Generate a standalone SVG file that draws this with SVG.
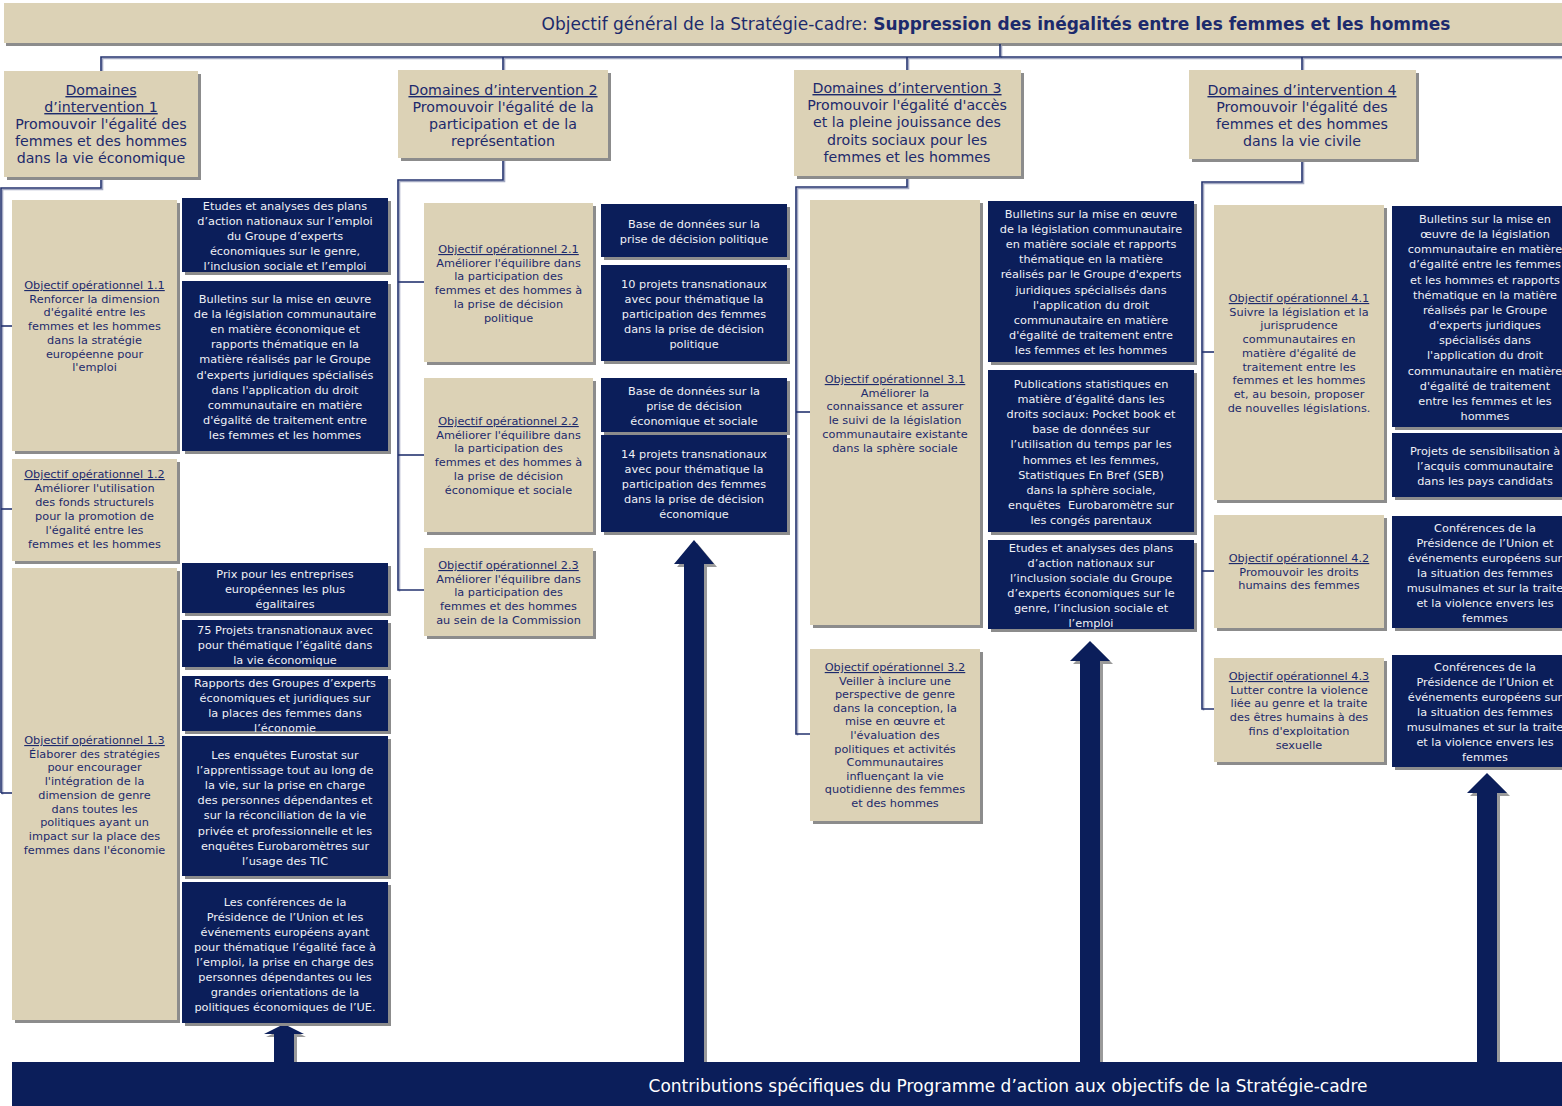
<svg xmlns="http://www.w3.org/2000/svg" width="1562" height="1106" viewBox="0 0 1562 1106">
<style>
.sh{fill:#8c8c8c}
.bg{fill:#dcd2b6}
.dk{fill:#0b1e5a}
.t{font-family:"DejaVu Sans",Verdana,sans-serif;text-anchor:middle}
.dt{font-size:14.2px;fill:#1c2a6c}
.ot{font-size:11.3px;fill:#1c2a6c}
.wt{font-size:11.3px;fill:#f0f1f6}
.u{text-decoration:underline}
.ln{fill:none;stroke:#24336f;stroke-width:1.6}
.lsh{fill:none;stroke:#a3a9c2;stroke-width:1.6}
.ar{fill:#0b1e5a}
.arsh{fill:#9a9a9a}
</style>
<rect width="1562" height="1106" fill="#ffffff"/>

<g id="header">
<rect class="sh" x="6" y="6" width="1560" height="40"/>
<rect class="bg" x="4" y="3" width="1560" height="40"/>
<text class="t" x="996" y="30" font-size="17" fill="#1c2a6c">Objectif général de la Stratégie-cadre: <tspan font-weight="bold">Suppression des inégalités entre les femmes et les hommes</tspan></text>
</g>

<g id="connectors">
<g class="lsh" transform="translate(1.5,1.5)">
<polyline points="1000,44 1000,57"/>
<polyline points="101,71 101,57 1562,57"/>
<polyline points="503,57 503,70"/><polyline points="907,57 907,70"/><polyline points="1302,57 1302,70"/>
<polyline points="101,177 101,188 1,188 1,793"/>
<polyline points="503,158 503,180 398,180 398,590"/>
<polyline points="907,176 907,187 796,187 796,734"/>
<polyline points="1302,159 1302,182 1202,182 1202,709"/>
</g>
<polyline class="ln" points="1000,44 1000,57"/>
<polyline class="ln" points="101,71 101,57 1562,57"/>
<polyline class="ln" points="503,57 503,70"/>
<polyline class="ln" points="907,57 907,70"/>
<polyline class="ln" points="1302,57 1302,70"/>
<polyline class="ln" points="101,177 101,188 1,188 1,793"/>
<polyline class="ln" points="1,326 12,326"/><polyline class="ln" points="1,509 12,509"/><polyline class="ln" points="1,793 12,793"/>
<polyline class="ln" points="503,158 503,180 398,180 398,590 424,590"/>
<polyline class="ln" points="398,282 424,282"/><polyline class="ln" points="398,455 424,455"/>
<polyline class="ln" points="907,176 907,187 796,187 796,734 810,734"/>
<polyline class="ln" points="796,412 810,412"/>
<polyline class="ln" points="1302,159 1302,182 1202,182 1202,709 1214,709"/>
<polyline class="ln" points="1202,352 1214,352"/><polyline class="ln" points="1202,571 1214,571"/>
<polygon class="arsh" points="287,1027 306,1037 297,1037 297,1062 277,1062 277,1037 266,1037"/>
<polygon class="ar" points="284,1024 304,1034 294,1034 294,1062 274,1062 274,1034 264,1034"/>
<polygon class="arsh" points="697,543 717,567 707,567 707,1062 687,1062 687,567 677,567"/>
<polygon class="ar" points="694,540 714,564 704,564 704,1062 684,1062 684,564 674,564"/>
<polygon class="arsh" points="1093,644 1113,664 1103,664 1103,1062 1083,1062 1083,664 1073,664"/>
<polygon class="ar" points="1090,641 1110,661 1100,661 1100,1062 1080,1062 1080,661 1070,661"/>
<polygon class="arsh" points="1490,776 1510,796 1500,796 1500,1062 1480,1062 1480,796 1470,796"/>
<polygon class="ar" points="1487,773 1507,793 1497,793 1497,1062 1477,1062 1477,793 1467,793"/>
</g>

<g id="d1"><rect class="sh" x="7" y="74" width="194" height="106"/><rect class="bg" x="4" y="71" width="194" height="106"/>
<text class="t dt" x="101" y="95"><tspan class="u">Domaines</tspan><tspan class="u" x="101" dy="17">d’intervention 1</tspan><tspan x="101" dy="17">Promouvoir l'égalité des</tspan><tspan x="101" dy="17">femmes et des hommes</tspan><tspan x="101" dy="17">dans la vie économique</tspan></text></g>

<g id="d2"><rect class="sh" x="401" y="73" width="210" height="88"/><rect class="bg" x="398" y="70" width="210" height="88"/>
<text class="t dt" x="503" y="95"><tspan class="u">Domaines d’intervention 2</tspan><tspan x="503" dy="17">Promouvoir l'égalité de la</tspan><tspan x="503" dy="17">participation et de la</tspan><tspan x="503" dy="17">représentation</tspan></text></g>

<g id="d3"><rect class="sh" x="797" y="73" width="227" height="106"/><rect class="bg" x="794" y="70" width="227" height="106"/>
<text class="t dt" x="907" y="93"><tspan class="u">Domaines d’intervention 3</tspan><tspan x="907" dy="17.2">Promouvoir l'égalité d'accès</tspan><tspan x="907" dy="17.2">et la pleine jouissance des</tspan><tspan x="907" dy="17.2">droits sociaux pour les</tspan><tspan x="907" dy="17.2">femmes et les hommes</tspan></text></g>

<g id="d4"><rect class="sh" x="1192" y="73" width="227" height="89"/><rect class="bg" x="1189" y="70" width="227" height="89"/>
<text class="t dt" x="1302" y="95"><tspan class="u">Domaines d’intervention 4</tspan><tspan x="1302" dy="17">Promouvoir l'égalité des</tspan><tspan x="1302" dy="17">femmes et des hommes</tspan><tspan x="1302" dy="17">dans la vie civile</tspan></text></g>

<g id="op11"><rect class="sh" x="15" y="203" width="165" height="251"/><rect class="bg" x="12" y="200" width="165" height="251"/>
<text class="t ot" x="94.5" y="289"><tspan class="u">Objectif opérationnel 1.1</tspan><tspan x="94.5" dy="13.7">Renforcer la dimension</tspan><tspan x="94.5" dy="13.7">d'égalité entre les</tspan><tspan x="94.5" dy="13.7">femmes et les hommes</tspan><tspan x="94.5" dy="13.7">dans la stratégie</tspan><tspan x="94.5" dy="13.7">européenne pour</tspan><tspan x="94.5" dy="13.7">l'emploi</tspan></text></g>

<g id="op12"><rect class="sh" x="15" y="462" width="165" height="102"/><rect class="bg" x="12" y="459" width="165" height="102"/>
<text class="t ot" x="94.5" y="478"><tspan class="u">Objectif opérationnel 1.2</tspan><tspan x="94.5" dy="13.9">Améliorer l'utilisation</tspan><tspan x="94.5" dy="13.9">des fonds structurels</tspan><tspan x="94.5" dy="13.9">pour la promotion de</tspan><tspan x="94.5" dy="13.9">l'égalité entre les</tspan><tspan x="94.5" dy="13.9">femmes et les hommes</tspan></text></g>

<g id="op13"><rect class="sh" x="15" y="571" width="165" height="452"/><rect class="bg" x="12" y="568" width="165" height="452"/>
<text class="t ot" x="94.5" y="744"><tspan class="u">Objectif opérationnel 1.3</tspan><tspan x="94.5" dy="13.7">Élaborer des stratégies</tspan><tspan x="94.5" dy="13.7">pour encourager</tspan><tspan x="94.5" dy="13.7">l'intégration de la</tspan><tspan x="94.5" dy="13.7">dimension de genre</tspan><tspan x="94.5" dy="13.7">dans toutes les</tspan><tspan x="94.5" dy="13.7">politiques ayant un</tspan><tspan x="94.5" dy="13.7">impact sur la place des</tspan><tspan x="94.5" dy="13.7">femmes dans l'économie</tspan></text></g>

<g id="b1a"><rect class="sh" x="185" y="201" width="206" height="74"/><rect class="dk" x="182" y="198" width="206" height="74"/>
<text class="t wt" x="285" y="210"><tspan>Etudes et analyses des plans</tspan><tspan x="285" dy="15">d’action nationaux sur l’emploi</tspan><tspan x="285" dy="15">du Groupe d’experts</tspan><tspan x="285" dy="15">économiques sur le genre,</tspan><tspan x="285" dy="15">l’inclusion sociale et l’emploi</tspan></text></g>

<g id="b1b"><rect class="sh" x="185" y="284" width="206" height="170"/><rect class="dk" x="182" y="281" width="206" height="170"/>
<text class="t wt" x="285" y="303"><tspan>Bulletins sur la mise en œuvre</tspan><tspan x="285" dy="15.1">de la législation communautaire</tspan><tspan x="285" dy="15.1">en matière économique et</tspan><tspan x="285" dy="15.1">rapports thématique en la</tspan><tspan x="285" dy="15.1">matière réalisés par le Groupe</tspan><tspan x="285" dy="15.1">d'experts juridiques spécialisés</tspan><tspan x="285" dy="15.1">dans l'application du droit</tspan><tspan x="285" dy="15.1">communautaire en matière</tspan><tspan x="285" dy="15.1">d'égalité de traitement entre</tspan><tspan x="285" dy="15.1">les femmes et les hommes</tspan></text></g>

<g id="b1c"><rect class="sh" x="185" y="566" width="206" height="50"/><rect class="dk" x="182" y="563" width="206" height="50"/>
<text class="t wt" x="285" y="578"><tspan>Prix pour les entreprises</tspan><tspan x="285" dy="15">européennes les plus</tspan><tspan x="285" dy="15">égalitaires</tspan></text></g>

<g id="b1d"><rect class="sh" x="185" y="623" width="206" height="47"/><rect class="dk" x="182" y="620" width="206" height="47"/>
<text class="t wt" x="285" y="634"><tspan>75 Projets transnationaux avec</tspan><tspan x="285" dy="15">pour thématique l’égalité dans</tspan><tspan x="285" dy="15">la vie économique</tspan></text></g>

<g id="b1e"><rect class="sh" x="185" y="679" width="206" height="55"/><rect class="dk" x="182" y="676" width="206" height="55"/>
<text class="t wt" x="285" y="687"><tspan>Rapports des Groupes d’experts</tspan><tspan x="285" dy="15">économiques et juridiques sur</tspan><tspan x="285" dy="15">la places des femmes dans</tspan><tspan x="285" dy="15">l’économie</tspan></text></g>

<g id="b1f"><rect class="sh" x="185" y="739" width="206" height="140"/><rect class="dk" x="182" y="736" width="206" height="140"/>
<text class="t wt" x="285" y="759"><tspan>Les enquêtes Eurostat sur</tspan><tspan x="285" dy="15.1">l’apprentissage tout au long de</tspan><tspan x="285" dy="15.1">la vie, sur la prise en charge</tspan><tspan x="285" dy="15.1">des personnes dépendantes et</tspan><tspan x="285" dy="15.1">sur la réconciliation de la vie</tspan><tspan x="285" dy="15.1">privée et professionnelle et les</tspan><tspan x="285" dy="15.1">enquêtes Eurobaromètres sur</tspan><tspan x="285" dy="15.1">l’usage des TIC</tspan></text></g>

<g id="b1g"><rect class="sh" x="185" y="885" width="206" height="141"/><rect class="dk" x="182" y="882" width="206" height="141"/>
<text class="t wt" x="285" y="906"><tspan>Les conférences de la</tspan><tspan x="285" dy="15">Présidence de l’Union et les</tspan><tspan x="285" dy="15">événements européens ayant</tspan><tspan x="285" dy="15">pour thématique l’égalité face à</tspan><tspan x="285" dy="15">l’emploi, la prise en charge des</tspan><tspan x="285" dy="15">personnes dépendantes ou les</tspan><tspan x="285" dy="15">grandes orientations de la</tspan><tspan x="285" dy="15">politiques économiques de l’UE.</tspan></text></g>

<g id="op21"><rect class="sh" x="427" y="206" width="169" height="159"/><rect class="bg" x="424" y="203" width="169" height="159"/>
<text class="t ot" x="508.5" y="253"><tspan class="u">Objectif opérationnel 2.1</tspan><tspan x="508.5" dy="13.7">Améliorer l'équilibre dans</tspan><tspan x="508.5" dy="13.7">la participation des</tspan><tspan x="508.5" dy="13.7">femmes et des hommes à</tspan><tspan x="508.5" dy="13.7">la prise de décision</tspan><tspan x="508.5" dy="13.7">politique</tspan></text></g>

<g id="op22"><rect class="sh" x="427" y="381" width="169" height="154"/><rect class="bg" x="424" y="378" width="169" height="154"/>
<text class="t ot" x="508.5" y="425"><tspan class="u">Objectif opérationnel 2.2</tspan><tspan x="508.5" dy="13.7">Améliorer l'équilibre dans</tspan><tspan x="508.5" dy="13.7">la participation des</tspan><tspan x="508.5" dy="13.7">femmes et des hommes à</tspan><tspan x="508.5" dy="13.7">la prise de décision</tspan><tspan x="508.5" dy="13.7">économique et sociale</tspan></text></g>

<g id="op23"><rect class="sh" x="427" y="551" width="169" height="88"/><rect class="bg" x="424" y="548" width="169" height="88"/>
<text class="t ot" x="508.5" y="569"><tspan class="u">Objectif opérationnel 2.3</tspan><tspan x="508.5" dy="13.7">Améliorer l'équilibre dans</tspan><tspan x="508.5" dy="13.7">la participation des</tspan><tspan x="508.5" dy="13.7">femmes et des hommes</tspan><tspan x="508.5" dy="13.7">au sein de la Commission</tspan></text></g>

<g id="b2a"><rect class="sh" x="604" y="207" width="186" height="53"/><rect class="dk" x="601" y="204" width="186" height="53"/>
<text class="t wt" x="694" y="228"><tspan>Base de données sur la</tspan><tspan x="694" dy="15">prise de décision politique</tspan></text></g>

<g id="b2b"><rect class="sh" x="604" y="268" width="186" height="96"/><rect class="dk" x="601" y="265" width="186" height="96"/>
<text class="t wt" x="694" y="288"><tspan>10 projets transnationaux</tspan><tspan x="694" dy="15.1">avec pour thématique la</tspan><tspan x="694" dy="15.1">participation des femmes</tspan><tspan x="694" dy="15.1">dans la prise de décision</tspan><tspan x="694" dy="15.1">politique</tspan></text></g>

<g id="b2c"><rect class="sh" x="604" y="381" width="186" height="54"/><rect class="dk" x="601" y="378" width="186" height="54"/>
<text class="t wt" x="694" y="395"><tspan>Base de données sur la</tspan><tspan x="694" dy="15">prise de décision</tspan><tspan x="694" dy="15">économique et sociale</tspan></text></g>

<g id="b2d"><rect class="sh" x="604" y="438" width="186" height="97"/><rect class="dk" x="601" y="435" width="186" height="97"/>
<text class="t wt" x="694" y="458"><tspan>14 projets transnationaux</tspan><tspan x="694" dy="15">avec pour thématique la</tspan><tspan x="694" dy="15">participation des femmes</tspan><tspan x="694" dy="15">dans la prise de décision</tspan><tspan x="694" dy="15">économique</tspan></text></g>

<g id="op31"><rect class="sh" x="813" y="203" width="170" height="425"/><rect class="bg" x="810" y="200" width="170" height="425"/>
<text class="t ot" x="895" y="383"><tspan class="u">Objectif opérationnel 3.1</tspan><tspan x="895" dy="13.7">Améliorer la</tspan><tspan x="895" dy="13.7">connaissance et assurer</tspan><tspan x="895" dy="13.7">le suivi de la législation</tspan><tspan x="895" dy="13.7">communautaire existante</tspan><tspan x="895" dy="13.7">dans la sphère sociale</tspan></text></g>

<g id="op32"><rect class="sh" x="813" y="652" width="170" height="172"/><rect class="bg" x="810" y="649" width="170" height="172"/>
<text class="t ot" x="895" y="671"><tspan class="u">Objectif opérationnel 3.2</tspan><tspan x="895" dy="13.6">Veiller à inclure une</tspan><tspan x="895" dy="13.6">perspective de genre</tspan><tspan x="895" dy="13.6">dans la conception, la</tspan><tspan x="895" dy="13.6">mise en œuvre et</tspan><tspan x="895" dy="13.6">l'évaluation des</tspan><tspan x="895" dy="13.6">politiques et activités</tspan><tspan x="895" dy="13.6">Communautaires</tspan><tspan x="895" dy="13.6">influençant la vie</tspan><tspan x="895" dy="13.6">quotidienne des femmes</tspan><tspan x="895" dy="13.6">et des hommes</tspan></text></g>

<g id="b3a"><rect class="sh" x="991" y="204" width="206" height="161"/><rect class="dk" x="988" y="201" width="206" height="161"/>
<text class="t wt" x="1091" y="218"><tspan>Bulletins sur la mise en œuvre</tspan><tspan x="1091" dy="15.1">de la législation communautaire</tspan><tspan x="1091" dy="15.1">en matière sociale et rapports</tspan><tspan x="1091" dy="15.1">thématique en la matière</tspan><tspan x="1091" dy="15.1">réalisés par le Groupe d'experts</tspan><tspan x="1091" dy="15.1">juridiques spécialisés dans</tspan><tspan x="1091" dy="15.1">l'application du droit</tspan><tspan x="1091" dy="15.1">communautaire en matière</tspan><tspan x="1091" dy="15.1">d'égalité de traitement entre</tspan><tspan x="1091" dy="15.1">les femmes et les hommes</tspan></text></g>

<g id="b3b"><rect class="sh" x="991" y="373" width="206" height="162"/><rect class="dk" x="988" y="370" width="206" height="162"/>
<text class="t wt" x="1091" y="388"><tspan>Publications statistiques en</tspan><tspan x="1091" dy="15.1">matière d’égalité dans les</tspan><tspan x="1091" dy="15.1">droits sociaux: Pocket book et</tspan><tspan x="1091" dy="15.1">base de données sur</tspan><tspan x="1091" dy="15.1">l’utilisation du temps par les</tspan><tspan x="1091" dy="15.1">hommes et les femmes,</tspan><tspan x="1091" dy="15.1">Statistiques En Bref (SEB)</tspan><tspan x="1091" dy="15.1">dans la sphère sociale,</tspan><tspan x="1091" dy="15.1" xml:space="preserve">enquêtes  Eurobaromètre sur</tspan><tspan x="1091" dy="15.1">les congés parentaux</tspan></text></g>

<g id="b3c"><rect class="sh" x="991" y="543" width="206" height="89"/><rect class="dk" x="988" y="540" width="206" height="89"/>
<text class="t wt" x="1091" y="552"><tspan>Etudes et analyses des plans</tspan><tspan x="1091" dy="15">d’action nationaux sur</tspan><tspan x="1091" dy="15">l’inclusion sociale du Groupe</tspan><tspan x="1091" dy="15">d’experts économiques sur le</tspan><tspan x="1091" dy="15">genre, l’inclusion sociale et</tspan><tspan x="1091" dy="15">l’emploi</tspan></text></g>

<g id="op41"><rect class="sh" x="1217" y="208" width="170" height="295"/><rect class="bg" x="1214" y="205" width="170" height="295"/>
<text class="t ot" x="1299" y="302"><tspan class="u">Objectif opérationnel 4.1</tspan><tspan x="1299" dy="13.7">Suivre la législation et la</tspan><tspan x="1299" dy="13.7">jurisprudence</tspan><tspan x="1299" dy="13.7">communautaires en</tspan><tspan x="1299" dy="13.7">matière d'égalité de</tspan><tspan x="1299" dy="13.7">traitement entre les</tspan><tspan x="1299" dy="13.7">femmes et les hommes</tspan><tspan x="1299" dy="13.7">et, au besoin, proposer</tspan><tspan x="1299" dy="13.7">de nouvelles législations.</tspan></text></g>

<g id="op42"><rect class="sh" x="1217" y="518" width="170" height="113"/><rect class="bg" x="1214" y="515" width="170" height="113"/>
<text class="t ot" x="1299" y="562"><tspan class="u">Objectif opérationnel 4.2</tspan><tspan x="1299" dy="13.7">Promouvoir les droits</tspan><tspan x="1299" dy="13.7">humains des femmes</tspan></text></g>

<g id="op43"><rect class="sh" x="1217" y="661" width="170" height="104"/><rect class="bg" x="1214" y="658" width="170" height="104"/>
<text class="t ot" x="1299" y="680"><tspan class="u">Objectif opérationnel 4.3</tspan><tspan x="1299" dy="13.7">Lutter contre la violence</tspan><tspan x="1299" dy="13.7">liée au genre et la traite</tspan><tspan x="1299" dy="13.7">des êtres humains à des</tspan><tspan x="1299" dy="13.7">fins d'exploitation</tspan><tspan x="1299" dy="13.7">sexuelle</tspan></text></g>

<g id="b4a"><rect class="sh" x="1395" y="209" width="186" height="221"/><rect class="dk" x="1392" y="206" width="186" height="221"/>
<text class="t wt" x="1485" y="223"><tspan>Bulletins sur la mise en</tspan><tspan x="1485" dy="15.15">œuvre de la législation</tspan><tspan x="1485" dy="15.15">communautaire en matière</tspan><tspan x="1485" dy="15.15">d’égalité entre les femmes</tspan><tspan x="1485" dy="15.15">et les hommes et rapports</tspan><tspan x="1485" dy="15.15">thématique en la matière</tspan><tspan x="1485" dy="15.15">réalisés par le Groupe</tspan><tspan x="1485" dy="15.15">d'experts juridiques</tspan><tspan x="1485" dy="15.15">spécialisés dans</tspan><tspan x="1485" dy="15.15">l'application du droit</tspan><tspan x="1485" dy="15.15">communautaire en matière</tspan><tspan x="1485" dy="15.15">d'égalité de traitement</tspan><tspan x="1485" dy="15.15">entre les femmes et les</tspan><tspan x="1485" dy="15.15">hommes</tspan></text></g>

<g id="b4b"><rect class="sh" x="1395" y="436" width="186" height="64"/><rect class="dk" x="1392" y="433" width="186" height="64"/>
<text class="t wt" x="1485" y="455"><tspan>Projets de sensibilisation à</tspan><tspan x="1485" dy="15">l’acquis communautaire</tspan><tspan x="1485" dy="15">dans les pays candidats</tspan></text></g>

<g id="b4c"><rect class="sh" x="1395" y="519" width="186" height="112"/><rect class="dk" x="1392" y="516" width="186" height="112"/>
<text class="t wt" x="1485" y="532"><tspan>Conférences de la</tspan><tspan x="1485" dy="15">Présidence de l’Union et</tspan><tspan x="1485" dy="15">événements européens sur</tspan><tspan x="1485" dy="15">la situation des femmes</tspan><tspan x="1485" dy="15">musulmanes et sur la traite</tspan><tspan x="1485" dy="15">et la violence envers les</tspan><tspan x="1485" dy="15">femmes</tspan></text></g>

<g id="b4d"><rect class="sh" x="1395" y="658" width="186" height="112"/><rect class="dk" x="1392" y="655" width="186" height="112"/>
<text class="t wt" x="1485" y="671"><tspan>Conférences de la</tspan><tspan x="1485" dy="15">Présidence de l’Union et</tspan><tspan x="1485" dy="15">événements européens sur</tspan><tspan x="1485" dy="15">la situation des femmes</tspan><tspan x="1485" dy="15">musulmanes et sur la traite</tspan><tspan x="1485" dy="15">et la violence envers les</tspan><tspan x="1485" dy="15">femmes</tspan></text></g>

<g id="banner">
<rect class="dk" x="12" y="1062" width="1560" height="50"/>
<text class="t" x="1008" y="1092" font-size="17" fill="#ffffff">Contributions spécifiques du Programme d’action aux objectifs de la Stratégie-cadre</text>
</g>
</svg>
